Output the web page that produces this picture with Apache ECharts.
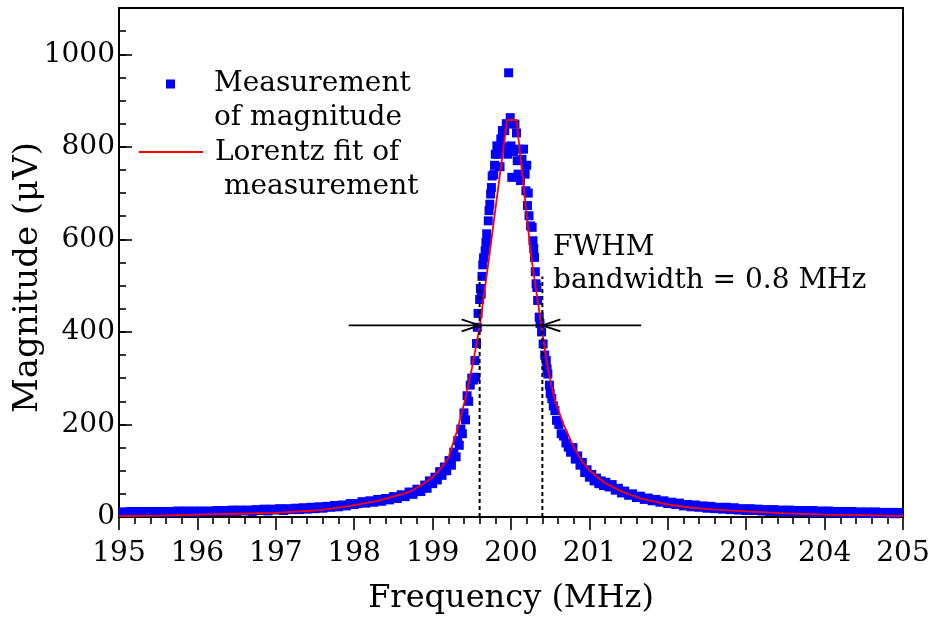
<!DOCTYPE html>
<html>
<head>
<meta charset="utf-8">
<script src="https://cdn.jsdelivr.net/npm/echarts@6/dist/echarts.min.js"></script>
<style>html,body{margin:0;padding:0;background:#fff}#chart{width:938px;height:625px}</style>
</head>
<body>
<div id="chart"></div>
<script>
// ---------- data ----------
const xTickLabels = [195, 196, 197, 198, 199, 200, 201, 202, 203, 204, 205];
const yTickLabels = [0, 200, 400, 600, 800, 1000];

// Lorentz fit (frequency MHz, magnitude uV)
const fitFreq = [195.0, 195.5, 196.0, 196.5, 197.0, 197.5, 197.7, 197.95, 198.3, 198.7, 198.85, 199.0, 199.1, 199.2, 199.31, 199.41, 199.5, 199.6, 199.72, 199.95, 200.07, 200.26, 200.39, 200.47, 200.56, 200.67, 200.8, 200.9, 201.0, 201.2, 201.4, 201.65, 202.0, 202.3, 202.6, 203.0, 203.5, 204.0, 204.5, 205.0];
const fitMag  = [2, 3, 5, 7, 9, 14, 18, 24, 35, 54, 68, 86, 104, 127, 185, 250, 320, 411, 560, 858, 858, 560, 411, 320, 252, 200, 151, 122, 101, 73, 56, 40, 27, 20, 16, 12, 8, 5, 4, 2];

// Measurement points [frequency MHz, magnitude uV]
const measLeftTail = [[195.05,11],[195.10,10],[195.15,12],[195.20,10],[195.25,12],[195.30,10],[195.35,12],[195.40,10],[195.45,12],[195.50,11],[195.55,12],[195.60,10],[195.65,12],[195.70,10],[195.75,13],[195.80,11],[195.85,13],[195.90,10],[195.95,13],[196.00,11],[196.05,13],[196.10,11],[196.15,13],[196.20,12],[196.25,14],[196.30,11],[196.35,14],[196.40,12],[196.45,15],[196.50,12],[196.55,15],[196.60,13],[196.65,15],[196.70,12],[196.75,16],[196.80,14],[196.85,17],[196.90,13],[196.95,17],[197.00,15],[197.05,18],[197.10,14],[197.15,18],[197.20,16],[197.25,19],[197.30,16],[197.35,20],[197.40,17],[197.45,21],[197.50,18],[197.55,22],[197.60,19],[197.65,23],[197.70,21],[197.75,25],[197.80,22],[197.85,26],[197.90,24],[197.95,29],[198.00,27]];
const measLeftFlank = [[198.05,29],[198.10,33],[198.15,30],[198.20,35],[198.25,32],[198.30,38],[198.35,34],[198.40,40],[198.45,37],[198.50,44],[198.55,40],[198.60,48],[198.65,44],[198.70,54],[198.75,49],[198.80,60],[198.85,55],[198.90,69],[198.93,62],[198.96,78],[199.00,72],[199.03,86],[199.06,80],[199.09,98],[199.12,90],[199.15,108],[199.18,100],[199.21,122],[199.24,112],[199.27,140],[199.30,130],[199.32,165],[199.34,155],[199.36,190],[199.38,180],[199.40,225],[199.42,210],[199.44,262],[199.46,250],[199.48,285],[199.50,300],[199.52,296],[199.54,338],[199.55,302],[199.56,375],[199.57,410],[199.58,440]];
const measPeak = [[199.60,470],[199.61,494],[199.62,482],[199.63,520],[199.64,545],[199.65,560],[199.67,575],[199.68,593],[199.69,612],[199.70,600],[199.71,640],[199.72,662],[199.73,676],[199.74,698],[199.75,712],[199.76,737],[199.78,740],[199.79,760],[199.80,784],[199.82,802],[199.84,784],[199.86,757],[199.87,817],[199.89,835],[199.91,800],[199.92,835],[199.94,850],[199.96,784],[199.97,960],[199.98,791],[199.99,863],[200.00,802],[200.01,734],[200.02,850],[200.03,790],[200.05,849],[200.07,830],[200.08,770],[200.09,741],[200.10,795],[200.12,727],[200.14,773],[200.16,795],[200.18,741],[200.19,705],[200.20,760],[200.21,673],[200.22,700],[200.23,651],[200.25,629],[200.27,626],[200.28,597],[200.29,580],[200.30,561],[200.31,530],[200.32,504],[200.33,496],[200.34,468],[200.36,432],[200.37,418],[200.39,400],[200.41,374],[200.43,350],[200.45,338]];
const measRightFlank = [[200.46,320],[200.47,309],[200.49,285],[200.50,267],[200.52,256],[200.54,240],[200.56,230],[200.58,209],[200.61,200],[200.64,180],[200.67,175],[200.70,160],[200.73,151],[200.76,140],[200.79,150],[200.82,125],[200.85,132],[200.88,112],[200.91,118],[200.94,96],[200.97,102],[201.00,86],[201.03,92],[201.06,78],[201.09,84],[201.12,72],[201.15,78],[201.18,68],[201.21,75],[201.25,65],[201.29,70],[201.33,58],[201.37,62],[201.41,52],[201.45,56],[201.50,47],[201.55,50],[201.60,42],[201.65,45],[201.70,38],[201.75,41],[201.80,35],[201.85,38],[201.90,32],[201.95,35],[202.00,29],[202.05,32],[202.10,27],[202.15,30],[202.20,24],[202.25,27]];
const measRightTail = [[202.30,22],[202.35,26],[202.40,21],[202.45,24],[202.50,19],[202.55,23],[202.60,18],[202.65,21],[202.70,17],[202.75,21],[202.80,16],[202.85,20],[202.90,15],[202.95,18],[203.00,14],[203.05,18],[203.10,14],[203.15,17],[203.20,13],[203.25,16],[203.30,12],[203.35,16],[203.40,12],[203.45,15],[203.50,11],[203.55,15],[203.60,11],[203.65,14],[203.70,11],[203.75,14],[203.80,10],[203.85,14],[203.90,10],[203.95,13],[204.00,10],[204.05,13],[204.10,9],[204.15,12],[204.20,9],[204.25,12],[204.30,8],[204.35,12],[204.40,8],[204.45,11],[204.50,8],[204.55,11],[204.60,8],[204.65,11],[204.70,8],[204.75,10],[204.80,8],[204.85,10],[204.90,7],[204.95,10]];

// FWHM annotation values
const fwhmLevel = 414;
const fwhmEdges = [199.6, 200.4];
const arrowSpan = [197.93, 201.66];
const dottedTop = 520;

// ---------- chart ----------
const FONT = '"DejaVu Serif", serif';
const measurement = [].concat(measLeftTail, measLeftFlank, measPeak, measRightFlank, measRightTail);
const fitData = fitFreq.map((f, i) => [f, fitMag[i]]);

const chart = echarts.init(document.getElementById('chart'), null, { renderer: 'canvas' });

const option = {
  animation: false,
  backgroundColor: '#fff',
  grid: { left: 119, right: 35, top: 8, bottom: 108, show: true, borderColor: '#000', borderWidth: 2, backgroundColor: 'transparent', containLabel: false, outerBoundsMode: 'none' },
  legend: [
    {
      data: ['Measurement of magnitude'], left: 166, top: 67, padding: 0, orient: 'vertical',
      icon: 'path://M0,0L9,0L9,9L0,9Z M0,43L9,43',
      itemWidth: 9, itemHeight: 43, selectedMode: false,
      itemStyle: { color: '#0000ff', opacity: 1, borderWidth: 0 },
      formatter: () => 'Measurement\nof magnitude',
      textStyle: { fontFamily: FONT, fontSize: 28, lineHeight: 34, color: '#000', padding: [0, 0, 0, 34] }
    },
    {
      data: ['Lorentz fit of measurement'], left: 139, top: 136, padding: 0, orient: 'vertical',
      icon: 'path://M0,0L64,0L64,2L0,2Z M0,38L64,38',
      itemWidth: 64, itemHeight: 38, selectedMode: false,
      itemStyle: { color: '#ff0000', opacity: 1, borderWidth: 0 },
      formatter: () => 'Lorentz fit of\n measurement',
      textStyle: { fontFamily: FONT, fontSize: 28, lineHeight: 34, color: '#000', padding: [0, 0, 0, 7] }
    }
  ],
  xAxis: {
    type: 'value', min: 195, max: 205, interval: 1,
    name: 'Frequency (MHz)', nameLocation: 'middle', nameGap: 66, nameMoveOverlap: false,
    nameTextStyle: { fontFamily: FONT, fontSize: 32, color: '#000' },
    axisLine: { show: true, onZero: false, lineStyle: { color: '#000', width: 2 } },
    axisTick: { show: true, inside: false, length: 13, lineStyle: { color: '#000', width: 1.6 } },
    minorTick: { show: true, splitNumber: 5, length: 7, lineStyle: { color: '#000', width: 1.6 } },
    splitLine: { show: false },
    axisLabel: { margin: 23, fontFamily: FONT, fontSize: 28, color: '#000',
      formatter: v => (xTickLabels.indexOf(Math.round(v)) >= 0 && Math.abs(v - Math.round(v)) < 1e-6) ? String(Math.round(v)) : '' }
  },
  yAxis: [
    {
      type: 'value', min: 0, max: 1100, interval: 200, position: 'left',
      name: 'Magnitude (\u03bcV)', nameLocation: 'middle', nameGap: 74, nameMoveOverlap: false,
      nameTextStyle: { fontFamily: FONT, fontSize: 34, color: '#000', padding: [0, 30, 0, 0] },
      axisLine: { show: true, onZero: false, lineStyle: { color: '#000', width: 2 } },
      axisTick: { show: true, inside: true, length: 13, lineStyle: { color: '#000', width: 1.6 } },
      splitLine: { show: false },
      axisLabel: { margin: 4, fontFamily: FONT, fontSize: 28, color: '#000',
        formatter: v => yTickLabels.indexOf(v) >= 0 ? String(v) : '' }
    },
    {
      type: 'value', min: 0, max: 1100, interval: 50, position: 'left',
      axisLine: { show: false },
      axisTick: { show: true, inside: true, length: 7, lineStyle: { color: '#000', width: 1.6 } },
      splitLine: { show: false },
      axisLabel: { show: false }
    }
  ],
  graphic: [
    {
      type: 'text', left: 553, top: 231, silent: true,
      style: { text: 'FWHM\nbandwidth = 0.8 MHz', font: '28px ' + FONT, fill: '#000', lineHeight: 33 }
    }
  ],
  series: [
    {
      name: 'Measurement of magnitude', type: 'scatter', data: measurement,
      symbol: 'rect', symbolSize: 9, itemStyle: { color: '#0000ff', opacity: 1 }, z: 2, silent: true
    },
    {
      name: 'Lorentz fit of measurement', type: 'line', data: fitData,
      symbol: 'none', smooth: false, lineStyle: { color: '#ff0000', width: 1.8 }, itemStyle: { color: '#ff0000' }, z: 3, silent: true
    },
    {
      name: 'FWHM', type: 'custom', z: 5, silent: true, clip: false,
      data: [[fwhmEdges[0], fwhmLevel]],
      renderItem: (params, api) => {
        const a = api.coord([arrowSpan[0], fwhmLevel]);
        const b = api.coord([arrowSpan[1], fwhmLevel]);
        const l = api.coord([fwhmEdges[0], fwhmLevel]);
        const r = api.coord([fwhmEdges[1], fwhmLevel]);
        const l0 = api.coord([fwhmEdges[0], 0]);
        const lt = api.coord([fwhmEdges[0], dottedTop]);
        const r0 = api.coord([fwhmEdges[1], 0]);
        const rt = api.coord([fwhmEdges[1], dottedTop]);
        const solid = { stroke: '#000', lineWidth: 1.8, fill: null };
        const dotted = { stroke: '#000', lineWidth: 2, lineDash: [4, 3], fill: null };
        return {
          type: 'group',
          children: [
            { type: 'line', shape: { x1: l0[0], y1: l0[1], x2: lt[0], y2: lt[1] }, style: dotted },
            { type: 'line', shape: { x1: r0[0], y1: r0[1], x2: rt[0], y2: rt[1] }, style: dotted },
            { type: 'line', shape: { x1: a[0], y1: a[1], x2: b[0], y2: b[1] }, style: solid },
            { type: 'polyline', shape: { points: [[l[0] - 18, l[1] - 6], [l[0], l[1]], [l[0] - 18, l[1] + 6]] }, style: solid },
            { type: 'polyline', shape: { points: [[r[0] + 18, r[1] - 6], [r[0], r[1]], [r[0] + 18, r[1] + 6]] }, style: solid }
          ]
        };
      }
    }
  ]
};
chart.setOption(option);
</script>
</body>
</html>
